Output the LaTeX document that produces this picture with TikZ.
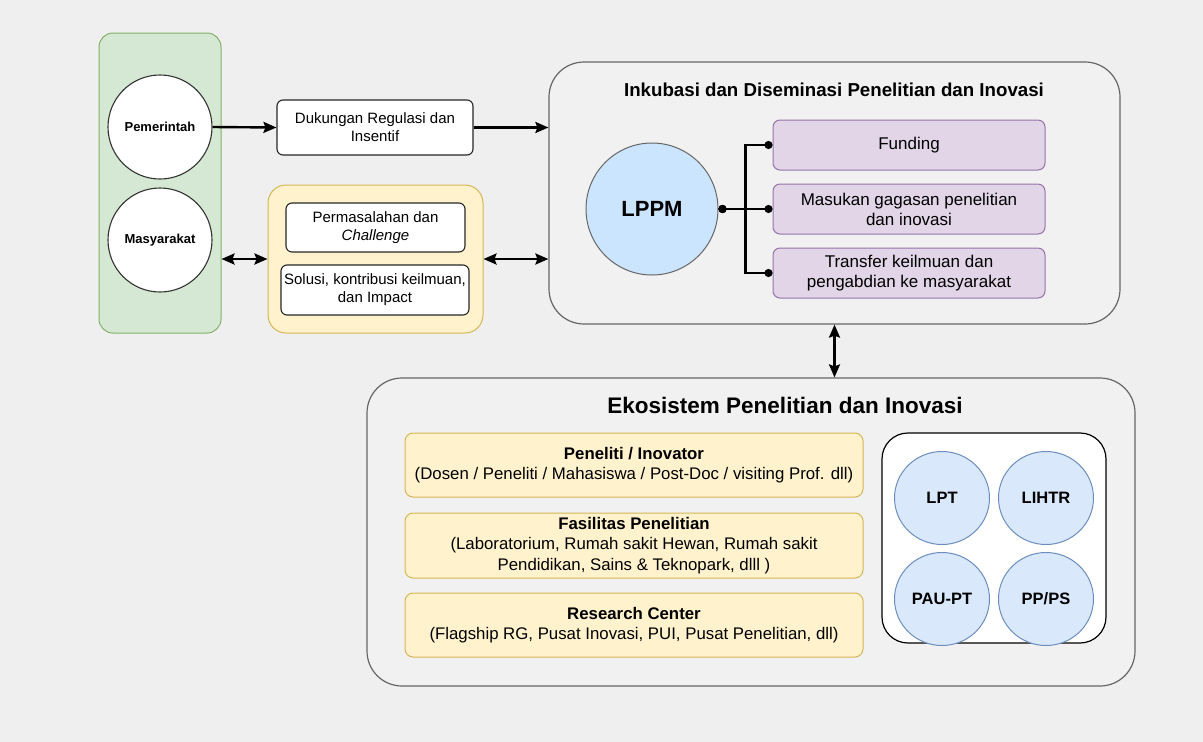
\documentclass[tikz,border=0pt]{standalone}
\usepackage{fontspec}
\setmainfont{Liberation Sans}
\usetikzlibrary{arrows.meta,shapes.geometric}
\definecolor{bgcol}{RGB}{239,239,239}
\definecolor{grnfill}{HTML}{D5E8D4}
\definecolor{grnline}{HTML}{82B366}
\definecolor{ylwfill}{HTML}{FFF2CC}
\definecolor{ylwline}{HTML}{D6B656}
\definecolor{prpfill}{HTML}{E1D5E7}
\definecolor{prpline}{HTML}{9673A6}
\definecolor{bluefill}{HTML}{DAE8FC}
\definecolor{blueline}{HTML}{6C8EBF}
\definecolor{lppmfill}{HTML}{CCE5FF}
\definecolor{contfill}{RGB}{241,241,241}
\tikzset{
  cont/.style={draw=black!60, fill=contfill, line width=1.2pt, rounded corners=35pt},
  actor/.style={circle, draw=black!80, fill=white, line width=1.1pt, minimum size=104pt, inner sep=0pt, font=\fontsize{13}{15}\selectfont\bfseries},
  wbox/.style={draw=black!85, fill=white, line width=1.1pt, rounded corners=6pt, align=center, inner sep=0pt, font=\fontsize{15}{18}\selectfont},
  pbox/.style={draw=prpline, fill=prpfill, line width=1pt, rounded corners=7pt, minimum width=272pt, minimum height=50pt, align=center, inner sep=0pt, font=\fontsize{17}{20}\selectfont},
  ybox/.style={draw=ylwline, fill=ylwfill, line width=1pt, rounded corners=8pt, minimum width=458pt, align=center, inner sep=0pt, font=\fontsize{16.8}{20.5}\selectfont},
  unit/.style={ellipse, draw=blueline, fill=bluefill, line width=1pt, minimum width=95pt, minimum height=93pt, inner sep=0pt, font=\fontsize{16.5}{19}\selectfont\bfseries},
  flow/.style={line width=2.4pt, -{Stealth[length=13pt,width=11pt,inset=2pt]}},
  both/.style={line width=2.4pt, {Stealth[length=13pt,width=11pt,inset=2pt]}-{Stealth[length=13pt,width=11pt,inset=2pt]}},
  dotline/.style={line width=2.4pt, {Circle[length=8pt]}-{Circle[length=8pt]}}
}
\begin{document}
\begin{tikzpicture}[x=1pt,y=-1pt]
    \fill[bgcol] (0,0) rectangle (1203,742);
    \useasboundingbox (0,0) rectangle (1203,742);
    % left side
    \node[draw=grnline, fill=grnfill, line width=1pt, rounded corners=14pt, minimum width=122pt, minimum height=300pt] (actors) at (160,183) {};
    \node[actor] (pem) at (160,127) {Pemerintah};
    \node[actor] (mas) at (160,240) {Masyarakat};
    \node[wbox, minimum width=196pt, minimum height=55pt] (dukungan) at (375,127.5) {Dukungan Regulasi dan\\Insentif};
    \node[draw=ylwline, fill=ylwfill, line width=1pt, rounded corners=18pt, minimum width=215pt, minimum height=148pt] (issue) at (375.5,259) {};
    \node[wbox, minimum width=179pt, minimum height=49pt] (masalah) at (375.5,227.5) {Permasalahan dan\\\textit{Challenge}};
    \node[wbox, minimum width=188pt, minimum height=50pt] (solusi) at (375,290) {Solusi, kontribusi keilmuan,\\dan Impact};
    % inkubasi
    \node[cont, minimum width=571pt, minimum height=262pt] (inkubasi) at (834.5,193) {};
    \node[font=\fontsize{18.7}{22}\selectfont\bfseries] (inktitle) at (834,90) {Inkubasi dan Diseminasi Penelitian dan Inovasi};
    \node[circle, draw=black!60, fill=lppmfill, line width=1pt, minimum size=132pt, font=\fontsize{22}{26}\selectfont\bfseries] (lppm) at (652,209) {LPPM};
    \node[pbox] (funding) at (909,145) {Funding};
    \node[pbox] (gagasan) at (909,209) {Masukan gagasan penelitian\\dan inovasi};
    \node[pbox] (transfer) at (909,273) {Transfer keilmuan dan\\pengabdian ke masyarakat};
    % ekosistem
    \node[cont, minimum width=768pt, minimum height=308pt] (ekosistem) at (751,532) {};
    \node[font=\fontsize{22.5}{26}\selectfont\bfseries] (ekotitle) at (785,405) {Ekosistem Penelitian dan Inovasi};
    \node[ybox, minimum height=64pt] (peneliti) at (634,465) {\textbf{Peneliti / Inovator}\\(Dosen / Peneliti / Mahasiswa / Post-Doc / visiting Prof. dll)};
    \node[ybox, minimum height=65pt] (fasilitas) at (634,545.5) {\textbf{Fasilitas Penelitian}\\(Laboratorium, Rumah sakit Hewan, Rumah sakit\\Pendidikan, Sains \& Teknopark, dlll )};
    \node[ybox, minimum height=64pt] (center) at (634,625) {\textbf{Research Center}\\(Flagship RG, Pusat Inovasi, PUI, Pusat Penelitian, dll)};
    \node[draw=black, fill=white, line width=1.2pt, rounded corners=26pt, minimum width=224pt, minimum height=210pt] (units) at (994,538) {};
    \node[unit] (lpt) at (942,498) {LPT};
    \node[unit] (lihtr) at (1046,498) {LIHTR};
    \node[unit] (paupt) at (942,599) {PAU-PT};
    \node[unit] (ppps) at (1046,599) {PP/PS};
    % connectors
    \draw[flow] (pem.east) -- (dukungan.west);
    \draw[flow] (dukungan.east) -- (inkubasi.west |- dukungan.east);
    \draw[both] (actors.east |- issue.west) -- (issue.west);
    \draw[both] (issue.east) -- (inkubasi.west |- issue.east);
    \draw[both] (inkubasi.south) -- (ekosistem.north -| inkubasi.south);
    \draw[dotline] (lppm.east) -- ([xshift=27pt]lppm.east) |- (funding.west);
    \draw[dotline] (lppm.east) -- (gagasan.west);
    \draw[dotline] (lppm.east) -- ([xshift=27pt]lppm.east) |- (transfer.west);
\end{tikzpicture}
\end{document}
